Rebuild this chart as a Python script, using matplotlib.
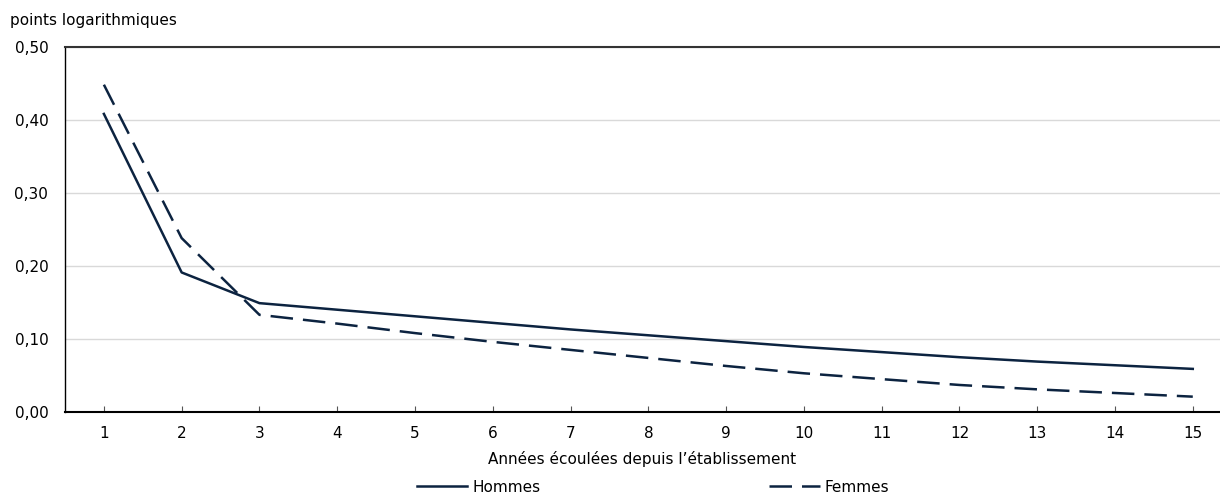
import matplotlib
matplotlib.use("Agg")
import matplotlib.pyplot as plt
from matplotlib.ticker import FuncFormatter

years = list(range(1, 16))
hommes = [0.408, 0.191, 0.149, 0.140, 0.131, 0.122, 0.113, 0.105, 0.097, 0.089, 0.082, 0.075, 0.069, 0.064, 0.059]
femmes = [0.448, 0.238, 0.133, 0.121, 0.108, 0.096, 0.085, 0.074, 0.063, 0.053, 0.045, 0.037, 0.031, 0.026, 0.021]
y_ticks = [0.0, 0.1, 0.2, 0.3, 0.4, 0.5]

navy = "#0c2340"
plt.rcParams['font.family'] = ['DejaVu Sans']
FS = 11

fig = plt.figure(figsize=(12.2, 4.96), dpi=100)
ax = fig.add_axes([65/1220, 1-412/496, 1-65/1220, (412-46.7)/496])

ax.plot(years, hommes, color=navy, lw=1.8, label="Hommes")
ax.plot(years, femmes, color=navy, lw=1.8, dashes=(9, 4), label="Femmes")

ax.set_xlim(0.5, 15.35)
ax.set_ylim(0, 0.5)
ax.set_xticks(years)
ax.set_xticklabels([str(y) for y in years], fontsize=FS)
ax.set_yticks(y_ticks)
ax.yaxis.set_major_formatter(FuncFormatter(lambda v, p: f"{v:.2f}".replace(".", ",")))
ax.tick_params(axis='y', length=0, labelsize=FS, pad=12)
ax.tick_params(axis='x', direction='in', length=4, width=0.8, color="#555555", pad=10)
ax.grid(axis='y', color="#d9d9d9", lw=1)
ax.set_axisbelow(True)
ax.spines['right'].set_visible(False)
ax.spines['top'].set_color("#333333")
ax.spines['top'].set_linewidth(1.5)
ax.spines['left'].set_color("#000000")
ax.spines['left'].set_linewidth(1.0)
ax.spines['bottom'].set_color("#000000")
ax.spines['bottom'].set_linewidth(1.5)

ax.set_xlabel("Années écoulées depuis l\u2019établissement", fontsize=FS, labelpad=7)
fig.text(10/1220, 1-20/496, "points logarithmiques", fontsize=FS, va='center', ha='left')

leg = fig.legend(loc='center', bbox_to_anchor=(653/1220, 1-487/496), ncol=2, frameon=False,
                 fontsize=FS, handlelength=3.3, handletextpad=0.3, columnspacing=15.0)
fig.savefig("out.png", dpi=100)
